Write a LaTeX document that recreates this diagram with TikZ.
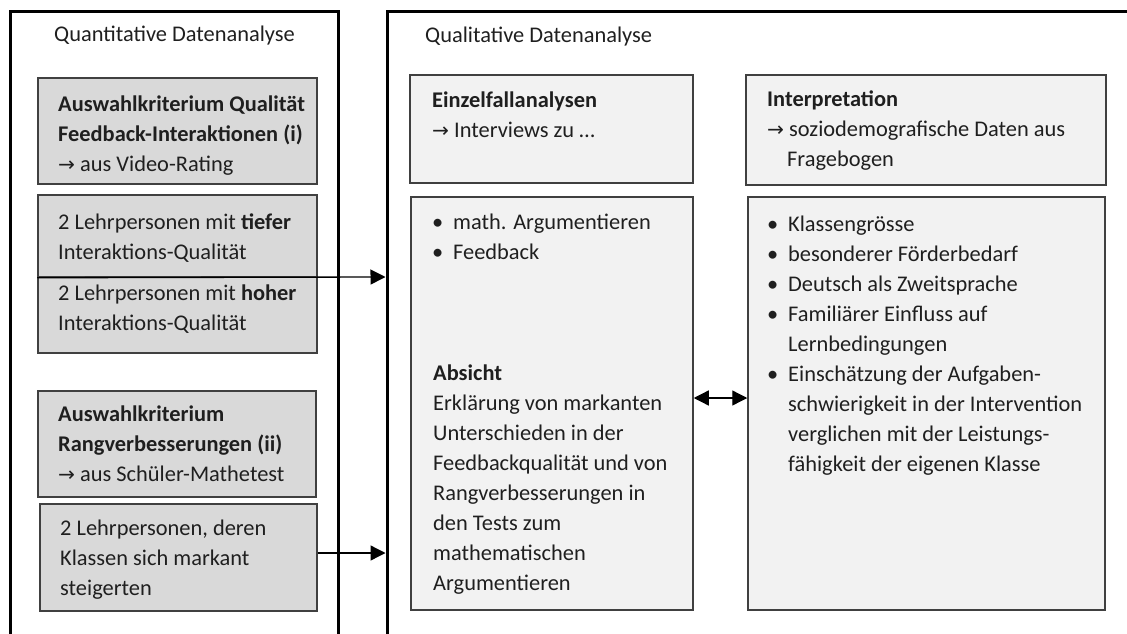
\documentclass[tikz,border=0pt]{standalone}
\usepackage{fontspec}
\setmainfont{Carlito}
\newfontfamily\arrowfont{DejaVu Sans}[Scale=0.9]
\usetikzlibrary{arrows.meta}

\newcommand{\arw}{{\arrowfont →}}
\newcommand{\bul}{\llap{\textbullet\hspace{10pt}}}

\begin{document}
\begin{tikzpicture}
[x=1pt,y=-1pt,
 every node/.style={font=\fontsize{22.4}{30}\selectfont, text=black!88},
 dark/.style={draw=black!75, line width=1.5pt, fill=black!15, inner sep=0pt},
 light/.style={draw=black!75, line width=1.5pt, fill=black!5, inner sep=0pt},
 txt/.style={anchor=base west, align=left, inner sep=0pt},
 frame/.style={line width=3pt},
 arr/.style={line width=1.3pt, -{Triangle[length=15pt,width=15pt]}}]
\useasboundingbox (0,0) rectangle (1127,634);

% outer frames
\draw[frame] (10,634) -- (10,12) -- (338,12) -- (338,634);
\draw[frame] (387,634) -- (387,12) -- (1127,12);

% boxes
\node[dark, minimum width=279, minimum height=106] (v1) at (177.5,131) {};
\node[dark, minimum width=279, minimum height=82] (v2) at (177.5,236) {};
\node[dark, minimum width=279, minimum height=76] (v3) at (177.5,315) {};
\node[dark, minimum width=278, minimum height=106] (v4) at (177,444) {};
\node[dark, minimum width=277, minimum height=107] (v5) at (178.5,557.5) {};

\node[light, minimum width=283, minimum height=108] (v6) at (551.5,129) {};
\node[light, minimum width=360, minimum height=110] (v7) at (926,130) {};
\node[light, minimum width=282, minimum height=413] (v8) at (552,403.5) {};
\node[light, minimum width=357, minimum height=413] (v9) at (926.5,403.5) {};

% texts (base = last line)
\node[txt] (v10) at (54,42) {Quantitative Datenanalyse};
\node[txt] (v11) at (425,43) {Qualitative Datenanalyse};

\node[txt] (v12) at (58,171) {\textbf{Auswahlkriterium Qualität}\\\textbf{Feedback-Interaktionen (i)}\\\arw{} aus Video-Rating};
\node[txt] (v13) at (58,259) {2 Lehrpersonen mit \textbf{tiefer}\\Interaktions-Qualität};
\node[txt] (v14) at (58,330) {2 Lehrpersonen mit \textbf{hoher}\\Interaktions-Qualität};
\node[txt] (v15) at (58,481) {\textbf{Auswahlkriterium}\\\textbf{Rangverbesserungen (ii)}\\\arw{} aus Schüler-Mathetest};
\node[txt] (v16) at (60,595) {2 Lehrpersonen, deren\\Klassen sich markant\\steigerten};

\node[txt] (v17) at (432,137) {\textbf{Einzelfallanalysen}\\\arw{} Interviews zu \dots};
\node[txt] (v18) at (767,166) {\textbf{Interpretation}\\\arw{} soziodemografische Daten aus\\\hspace*{20pt}Fragebogen};

\node[txt] (v19) at (453,259) {\bul math. Argumentieren\\\bul Feedback};
\node[txt] (v20) at (433,590) {\textbf{Absicht}\\Erklärung von markanten\\Unterschieden in der\\Feedbackqualität und von\\Rangverbesserungen in\\den Tests zum\\mathematischen\\Argumentieren};
\node[txt] (v21) at (788,471) {\bul Klassengrösse\\\bul besonderer Förderbedarf\\\bul Deutsch als Zweitsprache\\\bul Familiärer Einfluss auf\\Lernbedingungen\\\bul Einschätzung der Aufgaben-\\schwierigkeit in der Intervention\\verglichen mit der Leistungs-\\fähigkeit der eigenen Klasse};

% arrows
\coordinate (c1) at (385.5,277);
\coordinate (c2) at (385.5,553);
\foreach \from/\to in {v2.south west/c1,v5.east |- c2/c2}
\draw[arr] (\from) -- (\to);
\draw[arr, {Triangle[length=15pt,width=15pt]}-{Triangle[length=15pt,width=15pt]}] ([yshift=5.5pt]v8.east) -- ([yshift=5.5pt]v9.west);
\end{tikzpicture}
\end{document}
